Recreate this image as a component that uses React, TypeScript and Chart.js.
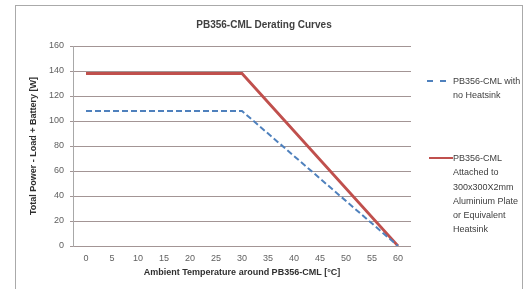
import React, { useEffect, useRef } from "react";
import { Chart, registerables } from "chart.js";

Chart.register(...registerables);

const temperatures = ["0", "5", "10", "15", "20", "25", "30", "35", "40", "45", "50", "55", "60"];
const noHeatsinkPower = [108, null, null, null, null, null, 108, null, null, null, null, null, 0];
const withHeatsinkPower = [138, null, null, null, null, null, 138, null, null, null, null, null, 0];
const yTicks = [0, 20, 40, 60, 80, 100, 120, 140, 160];

const chartTitle = "PB356-CML Derating Curves";
const noHeatsinkLabel = ["PB356-CML with", "no Heatsink"];
const withHeatsinkLabel = ["PB356-CML", "Attached to", "300x300X2mm", "Aluminium Plate", "or Equivalent", "Heatsink"];

const FONT = "'Liberation Sans', Arial, sans-serif";
const RED = "#C0504D";
const BLUE = "#4F81BD";

export default function App() {
  const ref = useRef<HTMLCanvasElement>(null);
  useEffect(() => {
    if (!ref.current) return;
    const chart = new Chart(ref.current, {
      type: "line",
      data: {
        labels: temperatures,
        datasets: [
          {
            label: noHeatsinkLabel.join(" "),
            data: noHeatsinkPower,
            borderColor: BLUE,
            backgroundColor: BLUE,
            borderWidth: 2,
            borderDash: [6, 3],
            pointRadius: 0,
            spanGaps: true,
            tension: 0,
          },
          {
            label: withHeatsinkLabel.join(" "),
            data: withHeatsinkPower,
            borderColor: RED,
            backgroundColor: RED,
            borderWidth: 2.8,
            pointRadius: 0,
            spanGaps: true,
            tension: 0,
          },
        ],
      },
      options: {
        animation: false,
        responsive: false,
        maintainAspectRatio: false,
        layout: { padding: { left: 0, right: 111, top: 40, bottom: 0 } },
        plugins: {
          legend: { display: false },
          tooltip: { enabled: false },
          title: { display: false },
        },
        scales: {
          x: {
            type: "category",
            offset: true,
            afterFit: (s: any) => {
              s.height = 50;
            },
            grid: { display: false, drawTicks: false },
            border: { display: false },
            ticks: { color: "#606060", font: { family: FONT, size: 9 }, padding: 7, maxRotation: 0, autoSkip: false },
            title: {
              display: true,
              text: "Ambient Temperature around PB356-CML [°C]",
              color: "#303030",
              font: { family: FONT, size: 9, weight: "bold" },
              padding: { top: 0, bottom: 18 },
            },
          },
          y: {
            min: 0,
            max: 160,
            afterFit: (s: any) => {
              s.width = 57;
            },
            afterBuildTicks: (s: any) => {
              s.ticks = yTicks.map((v) => ({ value: v }));
            },
            grid: { color: "#a39595", lineWidth: 1, drawTicks: true, tickLength: 3 },
            border: { display: true, color: "#a8a8a8" },
            ticks: { color: "#606060", font: { family: FONT, size: 9 }, padding: 6 },
            title: {
              display: true,
              text: "Total Power - Load + Battery [W]",
              color: "#303030",
              font: { family: FONT, size: 9, weight: "bold" },
              padding: { top: 12, bottom: 0 },
            },
          },
        },
      },
    });
    return () => chart.destroy();
  }, []);

  const textStyle: React.CSSProperties = {
    position: "absolute",
    fontFamily: FONT,
    fontSize: 9,
    lineHeight: "14.3px",
    color: "#404040",
    whiteSpace: "nowrap",
  };

  return (
    <div
      style={{
        position: "absolute",
        left: 15,
        top: 5,
        width: 506,
        height: 300,
        border: "1px solid #aaaaaa",
        background: "#fff",
      }}
    >
      <canvas ref={ref} width={506} height={290} style={{ display: "block", width: 506, height: 290 }} />
      <div
        style={{
          position: "absolute",
          left: 148,
          width: 200,
          top: 13,
          textAlign: "center",
          fontFamily: FONT,
          fontSize: 10,
          lineHeight: "12px",
          fontWeight: "bold",
          color: "#404040",
          whiteSpace: "nowrap",
        }}
      >
        {chartTitle}
      </div>
      <div style={{ position: "absolute", left: 411, top: 74, width: 19, borderTop: `2px dashed ${BLUE}` }} />
      <div style={{ ...textStyle, left: 437, top: 68 }}>
        {noHeatsinkLabel.map((t, i) => (
          <div key={i}>{t}</div>
        ))}
      </div>
      <div style={{ position: "absolute", left: 413, top: 151, width: 24, borderTop: `2.5px solid ${RED}` }} />
      <div style={{ ...textStyle, left: 437, top: 145 }}>
        {withHeatsinkLabel.map((t, i) => (
          <div key={i}>{t}</div>
        ))}
      </div>
    </div>
  );
}
